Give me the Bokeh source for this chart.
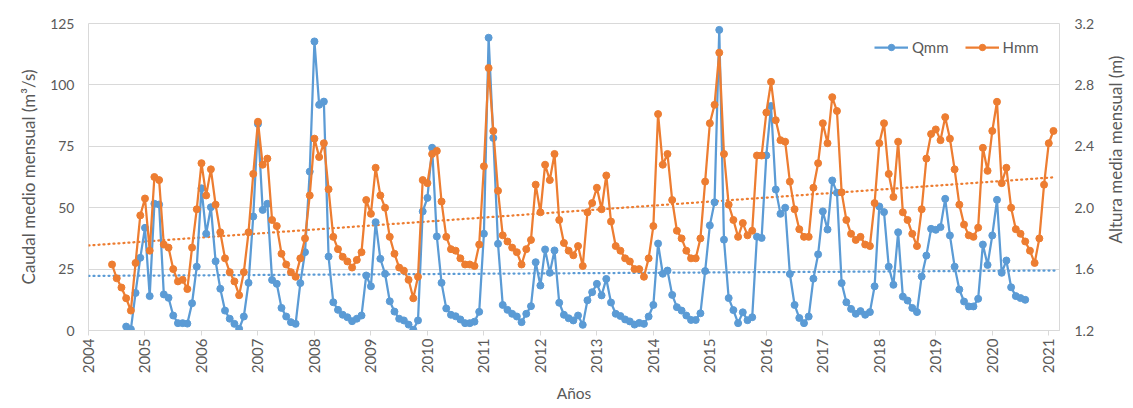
import math
import numpy as np
from bokeh.plotting import figure
from bokeh.layouts import row
from bokeh.models import (Range1d, LinearAxis, FixedTicker, Legend, LegendItem,
                          NumeralTickFormatter, Label)
from bokeh.embed import file_html
from bokeh.resources import INLINE

# ---------------- data ----------------
year_ticks = list(range(2004, 2022))
q_ticks = [0, 25, 50, 75, 100, 125]
h_ticks = [1.2, 1.6, 2.0, 2.4, 2.8, 3.2]

# Qmm: monthly mean discharge (m3/s), first month = Sep 2004
q_start = (2004, 9)
qmm = [
    1.6, 0.5, 15.3, 29.6,
    41.8, 14.0, 51.6, 51.3, 14.7, 13.3, 6.1, 3.0, 3.0, 2.8, 11.1, 26.0,
    57.9, 39.4, 50.2, 28.2, 17.0, 8.1, 4.8, 2.7, 0.7, 5.7, 19.4, 46.4,
    84.1, 49.1, 51.6, 20.6, 19.0, 9.2, 5.7, 3.4, 2.7, 19.3, 31.9, 64.7,
    117.7, 91.9, 93.2, 30.1, 11.5, 8.4, 6.4, 5.4, 3.8, 4.8, 6.1, 22.4,
    18.0, 44.1, 29.2, 23.1, 11.9, 7.7, 4.8, 4.1, 2.4, 0.3, 4.1, 48.5,
    54.0, 74.4, 38.3, 19.4, 9.0, 6.4, 5.8, 4.5, 3.0, 3.0, 3.6, 7.6,
    39.4, 119.2, 78.4, 35.3, 10.4, 8.4, 6.8, 5.7, 3.4, 6.8, 9.9, 27.8,
    18.3, 33.0, 23.5, 32.6, 11.3, 6.4, 5.0, 4.1, 6.1, 2.3, 12.3, 15.6,
    19.0, 14.3, 21.0, 11.4, 6.8, 5.9, 4.5, 3.7, 2.4, 3.1, 2.7, 5.7,
    10.4, 35.4, 23.1, 24.4, 14.5, 9.5, 8.1, 6.1, 4.3, 4.3, 7.0, 24.2,
    42.8, 52.2, 122.4, 37.0, 13.2, 8.3, 3.0, 7.4, 4.2, 5.4, 38.2, 37.7,
    71.3, 91.4, 57.4, 47.5, 50.0, 23.0, 10.4, 5.1, 3.0, 5.7, 21.1, 31.0,
    48.5, 41.1, 61.1, 56.1, 19.3, 11.5, 8.8, 6.8, 7.9, 6.4, 7.5, 18.0,
    50.5, 48.2, 26.0, 18.6, 40.0, 13.8, 12.2, 9.2, 7.5, 22.0, 30.5, 41.4,
    41.0, 42.1, 53.6, 38.7, 26.0, 16.7, 11.8, 9.8, 9.8, 12.9, 35.0, 26.7,
    38.7, 53.2, 23.5, 28.5, 17.6, 14.0, 13.2, 12.5,
]

# Hmm: monthly mean stage (m), first month = Jun 2004
h_start = (2004, 6)
hmm = [
    1.63, 1.54, 1.48, 1.41, 1.33, 1.64, 1.95,
    2.06, 1.72, 2.20, 2.18, 1.76, 1.74, 1.60, 1.52, 1.53, 1.47, 1.74, 1.99,
    2.29, 2.08, 2.25, 2.02, 1.84, 1.67, 1.58, 1.52, 1.43, 1.58, 1.84, 2.22,
    2.56, 2.28, 2.32, 1.92, 1.88, 1.70, 1.63, 1.58, 1.55, 1.67, 1.80, 2.08,
    2.45, 2.33, 2.42, 2.12, 1.81, 1.73, 1.68, 1.65, 1.61, 1.66, 1.71, 2.05,
    1.96, 2.26, 2.08, 2.00, 1.81, 1.70, 1.61, 1.59, 1.53, 1.41, 1.55, 2.18,
    2.16, 2.35, 2.37, 2.04, 1.81, 1.73, 1.72, 1.67, 1.63, 1.63, 1.62, 1.76,
    2.27, 2.91, 2.50, 2.11, 1.82, 1.78, 1.74, 1.71, 1.63, 1.73, 1.79, 2.15,
    1.97, 2.28, 2.18, 2.35, 1.92, 1.77, 1.72, 1.69, 1.75, 1.62, 1.97, 2.03,
    2.13, 1.99, 2.21, 1.91, 1.75, 1.72, 1.67, 1.65, 1.60, 1.60, 1.55, 1.67,
    1.88, 2.61, 2.28, 2.35, 2.05, 1.85, 1.80, 1.72, 1.67, 1.67, 1.80, 2.17,
    2.55, 2.67, 3.01, 2.35, 2.02, 1.92, 1.81, 1.90, 1.82, 1.85, 2.34, 2.34,
    2.62, 2.82, 2.57, 2.44, 2.43, 2.17, 1.99, 1.86, 1.81, 1.81, 2.13, 2.29,
    2.55, 2.42, 2.72, 2.63, 2.10, 1.92, 1.83, 1.79, 1.81, 1.76, 1.75, 2.03,
    2.42, 2.55, 2.22, 2.07, 2.43, 1.97, 1.92, 1.83, 1.75, 1.99, 2.32, 2.48,
    2.51, 2.44, 2.59, 2.45, 2.25, 2.02, 1.89, 1.82, 1.81, 1.87, 2.39, 2.24,
    2.50, 2.69, 2.16, 2.26, 2.00, 1.86, 1.83, 1.78, 1.72, 1.64, 1.80, 2.15,
    2.42, 2.50,
]

series_names = ["Qmm", "Hmm"]
x_title = "Años"
y_title = "Caudal medio mensual (m³/s)"
y2_title = "Altura media mensual (m)"
q_color = "#5B9BD5"
h_color = "#ED7D31"


def month_positions(start, n):
    y, m = start
    return [y + (m - 1 + i) / 12.0 for i in range(n)]


xq = month_positions(q_start, len(qmm))
xh = month_positions(h_start, len(hmm))

# linear trend lines (as Excel linear trendline, extended over the axis)
cq = np.polyfit(xq, qmm, 1)
ch = np.polyfit(xh, hmm, 1)
tx = [2004.0, 2021.12]
tq = [float(np.polyval(cq, t)) for t in tx]
th = [float(np.polyval(ch, t)) for t in tx]

FONT = "Lato"
TXT = "#595959"
GRID = "#d9d9d9"
X0, X1 = 2004, 2021.19

p = figure(
    frame_width=971, frame_height=307,
    x_range=Range1d(X0, X1), y_range=Range1d(0, 125),
    output_backend="svg", toolbar_location=None,
    min_border_left=88, min_border_right=41, min_border_top=23, min_border_bottom=60,
    background_fill_color="white", border_fill_color="white",
)
p.extra_y_ranges = {"h": Range1d(1.2, 3.2)}
p.outline_line_color = GRID
p.outline_line_width = 1

p.xgrid.grid_line_color = None
p.ygrid.grid_line_color = GRID
p.ygrid.grid_line_width = 1

# x axis
xa = p.xaxis[0]
xa.ticker = FixedTicker(ticks=year_ticks)
xa.major_label_orientation = math.pi / 2
xa.major_label_text_font = FONT
xa.major_label_text_font_size = "15px"
xa.major_label_text_color = TXT
xa.axis_line_color = GRID
xa.major_tick_line_color = GRID
xa.major_tick_out = 5
xa.major_tick_in = 0
xa.minor_tick_line_color = None
xa.major_label_standoff = 3
xa.axis_label = x_title
xa.axis_label_text_font = FONT
xa.axis_label_text_font_size = "15.5px"
xa.axis_label_text_font_style = "normal"
xa.axis_label_text_color = TXT
xa.axis_label_standoff = 8

# left axis
ya = p.yaxis[0]
ya.ticker = FixedTicker(ticks=q_ticks)
ya.axis_line_color = None
ya.major_tick_line_color = None
ya.minor_tick_line_color = None
ya.major_tick_out = 0
ya.major_tick_in = 0
ya.major_label_text_font = FONT
ya.major_label_text_font_size = "14px"
ya.major_label_text_color = TXT
ya.major_label_standoff = 14
ya.axis_label = y_title
ya.axis_label_text_font = FONT
ya.axis_label_text_font_size = "17px"
ya.axis_label_text_font_style = "normal"
ya.axis_label_text_color = TXT
ya.axis_label_standoff = 8

# right axis
ra = LinearAxis(y_range_name="h", ticker=FixedTicker(ticks=h_ticks),
                formatter=NumeralTickFormatter(format="0.0"))
ra.axis_line_color = None
ra.major_tick_line_color = None
ra.minor_tick_line_color = None
ra.major_tick_out = 0
ra.major_tick_in = 0
ra.major_label_text_font = FONT
ra.major_label_text_font_size = "14px"
ra.major_label_text_color = TXT
ra.major_label_standoff = 15
p.add_layout(ra, "right")

# trend lines
p.line(tx, tq, line_color=q_color, line_width=2.25, line_dash="1 4", line_cap="round")
p.line(tx, th, y_range_name="h", line_color=h_color, line_width=2.25, line_dash="1 4",
       line_cap="round")

# series
lq = p.line(xq, qmm, line_color=q_color, line_width=2.25)
sq = p.scatter(xq, qmm, size=7, marker="circle", fill_color=q_color, line_color=q_color)
lh = p.line(xh, hmm, y_range_name="h", line_color=h_color, line_width=2.25)
sh = p.scatter(xh, hmm, y_range_name="h", size=7, marker="circle", fill_color=h_color,
               line_color=h_color)

legend = Legend(
    items=[LegendItem(label=series_names[0], renderers=[lq, sq]),
           LegendItem(label=series_names[1], renderers=[lh, sh])],
    orientation="horizontal", location=(786, 274),
    border_line_color=None, background_fill_alpha=0,
    label_text_font=FONT, label_text_font_size="15px", label_text_color=TXT,
    glyph_width=34, glyph_height=16, spacing=16, padding=0, margin=0, label_standoff=4,
)
p.add_layout(legend)

# narrow side panel holding the right-axis title (reads bottom-to-top)
p2 = figure(
    width=25, height=400, x_range=Range1d(0, 25), y_range=Range1d(400, 0),
    output_backend="svg", toolbar_location=None,
    min_border=0, x_axis_location=None, y_axis_location=None,
    background_fill_color="white", border_fill_color="white",
)
p2.outline_line_color = None
p2.grid.visible = False
p2.add_layout(Label(x=15, y=167, text=y2_title, angle=math.pi / 2,
                    text_align="center", text_baseline="middle",
                    text_font=FONT, text_font_size="17px", text_color=TXT))

layout = row(p, p2, spacing=0)
open("out.html", "w").write(file_html(layout, INLINE))
